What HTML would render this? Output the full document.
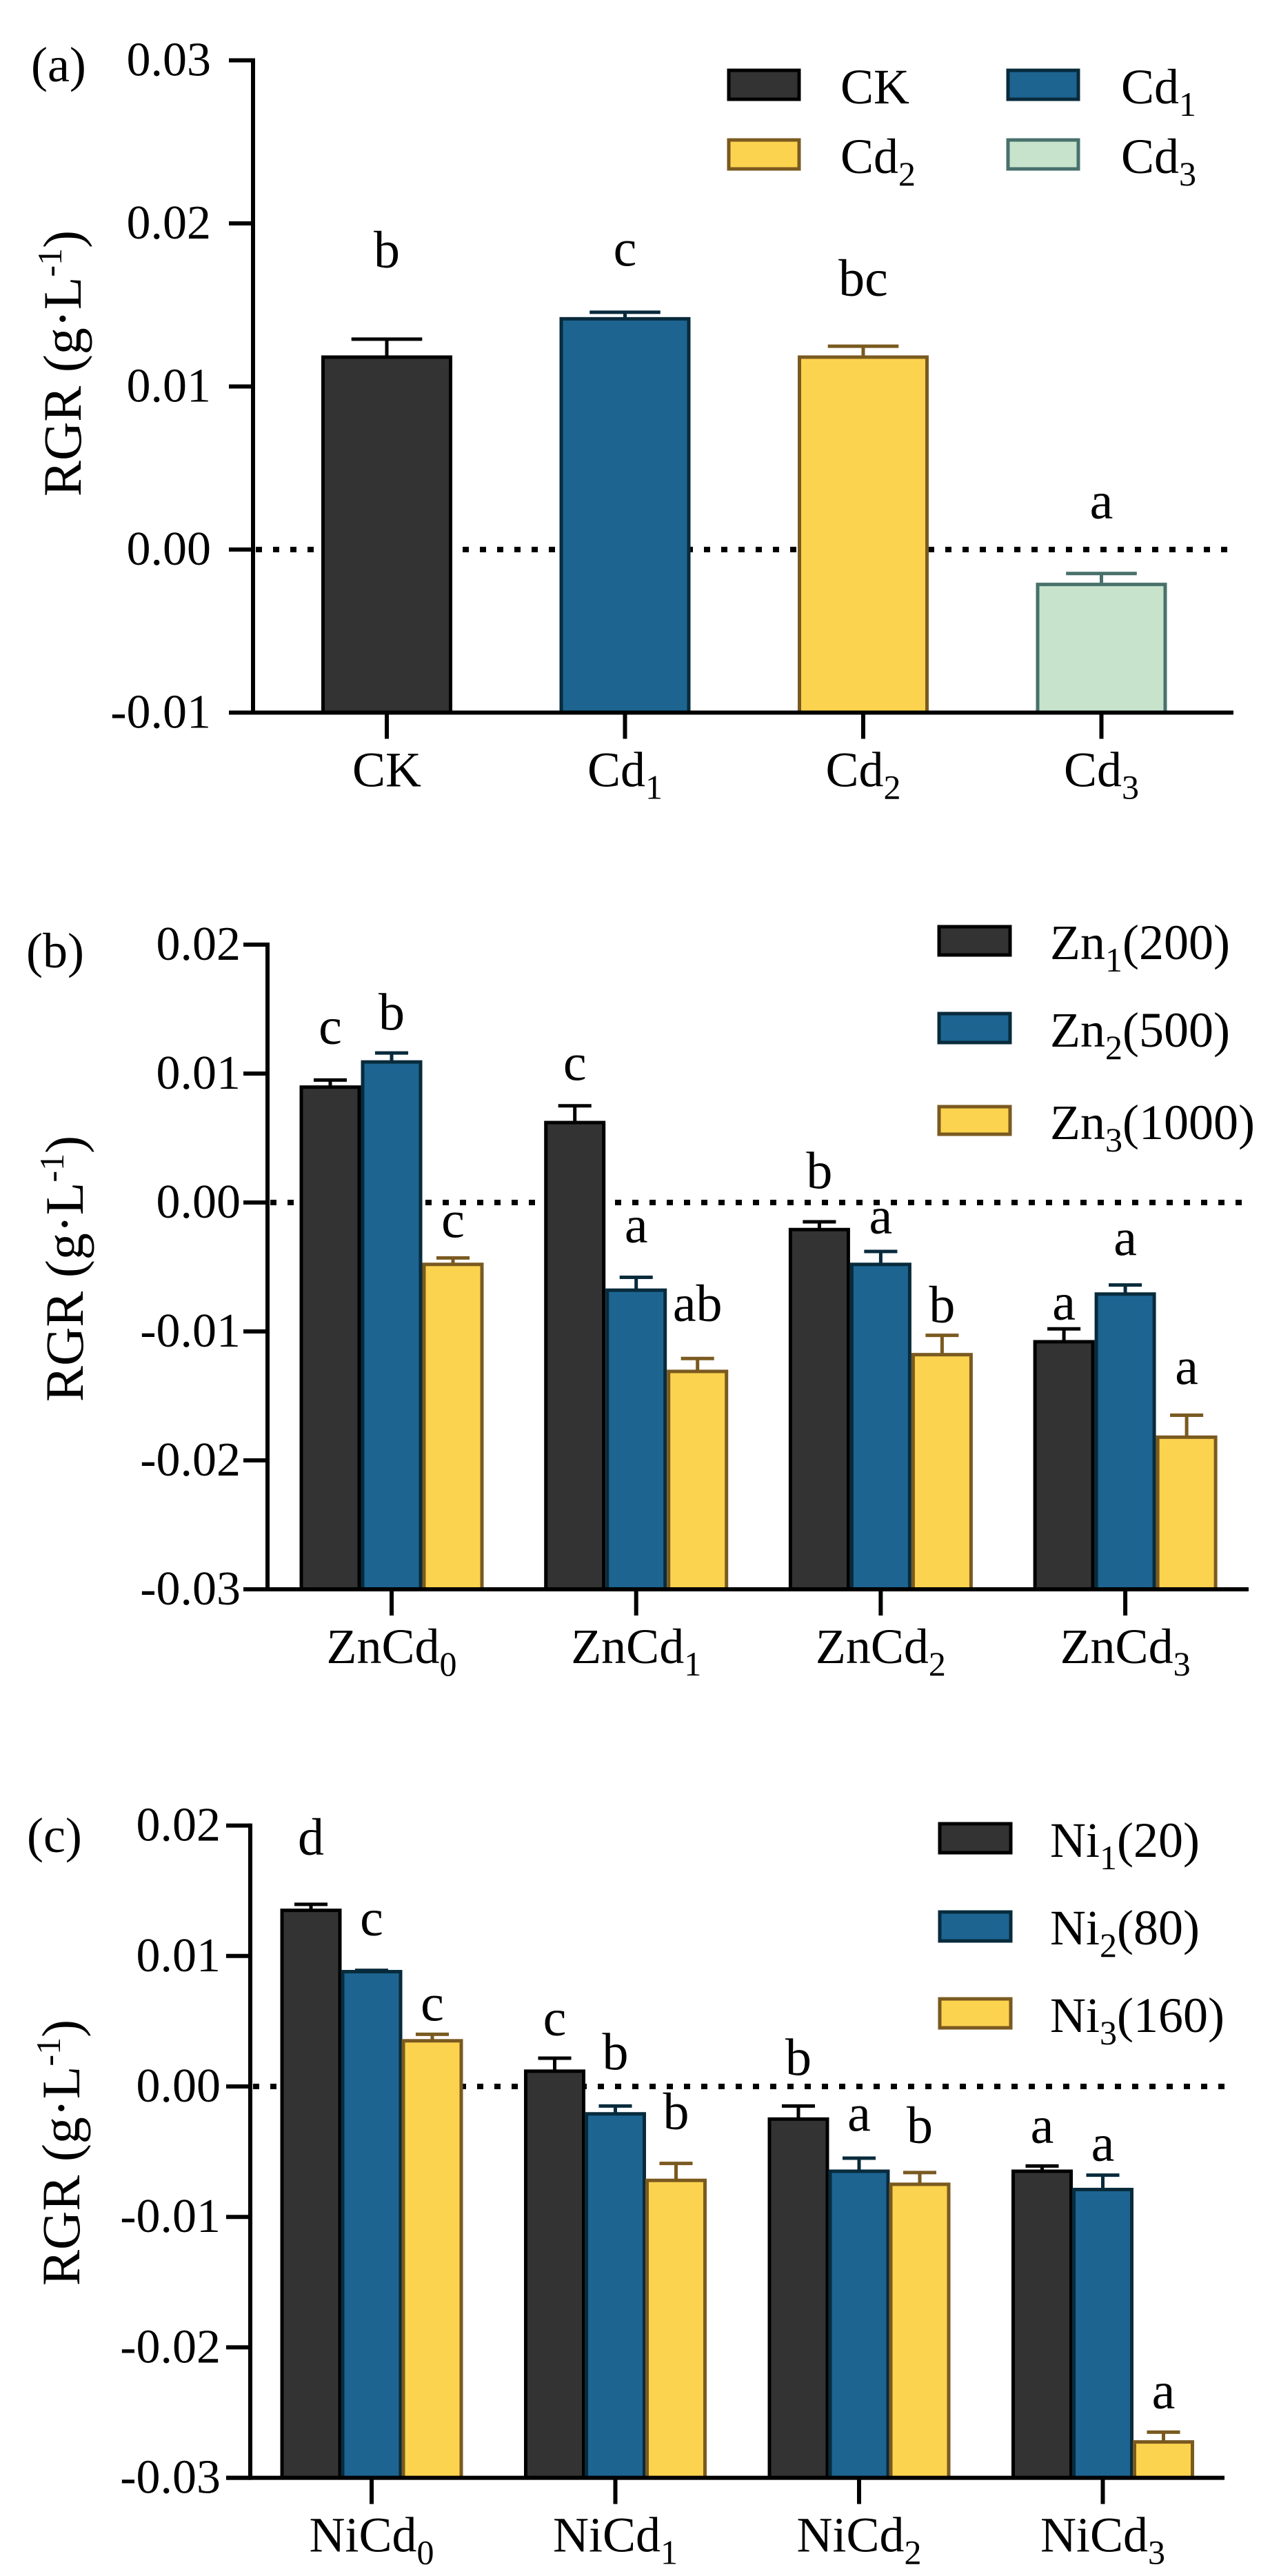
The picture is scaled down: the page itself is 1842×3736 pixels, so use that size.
<!DOCTYPE html>
<html><head><meta charset="utf-8"><title>RGR charts</title>
<style>
html,body{margin:0;padding:0;background:#fff;}
svg{display:block;font-family:"Liberation Serif","Times New Roman",serif;}
</style></head>
<body>
<svg id="chart" width="1842" height="3736" viewBox="0 0 1842 3736" xmlns="http://www.w3.org/2000/svg">
<rect x="0" y="0" width="1842" height="3736" fill="#fff"/>

<text x="45" y="118" font-size="72">(a)</text>
<text x="38" y="1403" font-size="72">(b)</text>
<text x="39" y="2686" font-size="72">(c)</text>

<text transform="translate(117,527) rotate(-90)" text-anchor="middle" font-size="78">RGR (g·L<tspan dy="-28" font-size="50">-1</tspan><tspan dy="28">)</tspan></text>
<text transform="translate(120,1840) rotate(-90)" text-anchor="middle" font-size="78">RGR (g·L<tspan dy="-28" font-size="50">-1</tspan><tspan dy="28">)</tspan></text>
<text transform="translate(115,3122) rotate(-90)" text-anchor="middle" font-size="78">RGR (g·L<tspan dy="-28" font-size="50">-1</tspan><tspan dy="28">)</tspan></text>

<g>
<rect x="1057" y="102" width="102" height="42" fill="#333333" stroke="#000" stroke-width="5"/>
<text x="1219" y="150" font-size="72">CK</text>
<rect x="1462" y="102" width="102" height="42" fill="#1d6491" stroke="#082b3c" stroke-width="5"/>
<text x="1626" y="150" font-size="72">Cd<tspan dy="18" font-size="50">1</tspan></text>
<rect x="1057" y="203" width="102" height="42" fill="#fcd34f" stroke="#7a5a20" stroke-width="5"/>
<text x="1219" y="251" font-size="72">Cd<tspan dy="18" font-size="50">2</tspan></text>
<rect x="1462" y="203" width="102" height="42" fill="#c7e3cc" stroke="#48716c" stroke-width="5"/>
<text x="1626" y="251" font-size="72">Cd<tspan dy="18" font-size="50">3</tspan></text>
</g>

<g>
<rect x="1362" y="1344" width="103" height="41" fill="#333333" stroke="#000" stroke-width="5"/>
<text x="1523" y="1391" font-size="72">Zn<tspan dy="18" font-size="50">1</tspan><tspan dy="-18">(200)</tspan></text>
<rect x="1362" y="1470" width="103" height="42" fill="#1d6491" stroke="#082b3c" stroke-width="5"/>
<text x="1523" y="1518" font-size="72">Zn<tspan dy="18" font-size="50">2</tspan><tspan dy="-18">(500)</tspan></text>
<rect x="1362" y="1605" width="103" height="40" fill="#fcd34f" stroke="#7a5a20" stroke-width="5"/>
<text x="1523" y="1652" font-size="72">Zn<tspan dy="18" font-size="50">3</tspan><tspan dy="-18">(1000)</tspan></text>
</g>

<g>
<rect x="1363" y="2645" width="103" height="42" fill="#333333" stroke="#000" stroke-width="5"/>
<text x="1523" y="2693" font-size="72">Ni<tspan dy="18" font-size="50">1</tspan><tspan dy="-18">(20)</tspan></text>
<rect x="1363" y="2773" width="103" height="42" fill="#1d6491" stroke="#082b3c" stroke-width="5"/>
<text x="1523" y="2820" font-size="72">Ni<tspan dy="18" font-size="50">2</tspan><tspan dy="-18">(80)</tspan></text>
<rect x="1363" y="2899" width="103" height="42" fill="#fcd34f" stroke="#7a5a20" stroke-width="5"/>
<text x="1523" y="2947" font-size="72">Ni<tspan dy="18" font-size="50">3</tspan><tspan dy="-18">(160)</tspan></text>
</g>

<g id="plots"></g>
</svg>

<script>
// ---------- Panel (a) data ----------
const aCategories = [['CK',''],['Cd','1'],['Cd','2'],['Cd','3']];
const aValues = [0.0118, 0.01415, 0.0118, -0.00214];
const aErrors = [0.0011, 0.0004, 0.00067, 0.00067];
const aLetters = ['b','c','bc','a'];
const aLetterY = [0.0173, 0.0174, 0.01555, 0.0019];
const aTicks = [-0.01, 0, 0.01, 0.02, 0.03];
const aTickLabels = ['-0.01','0.00','0.01','0.02','0.03'];

// ---------- Panel (b) data ----------
const bCategories = [['ZnCd','0'],['ZnCd','1'],['ZnCd','2'],['ZnCd','3']];
const bZn1 = [0.00895, 0.0062, -0.0021, -0.0108];
const bZn2 = [0.0109, -0.0068, -0.0048, -0.0071];
const bZn3 = [-0.0048, -0.0131, -0.0118, -0.0182];
const bZn1Err = [0.00055, 0.0013, 0.0006, 0.001];
const bZn2Err = [0.0007, 0.001, 0.001, 0.0007];
const bZn3Err = [0.0005, 0.001, 0.0015, 0.0017];
const bZn1Letters = ['c','c','b','a'];
const bZn2Letters = ['b','a','a','a'];
const bZn3Letters = ['c','ab','b','a'];
const bZn1LetterY = [0.0123, 0.0095, 0.0011, -0.0091];
const bZn2LetterY = [0.0134, -0.0031, -0.0024, -0.0041];
const bZn3LetterY = [-0.0027, -0.0092, -0.0093, -0.0141];
const bTicks = [-0.03, -0.02, -0.01, 0, 0.01, 0.02];
const bTickLabels = ['-0.03','-0.02','-0.01','0.00','0.01','0.02'];

// ---------- Panel (c) data ----------
const cCategories = [['NiCd','0'],['NiCd','1'],['NiCd','2'],['NiCd','3']];
const cNi1 = [0.0135, 0.00117, -0.0025, -0.0065];
const cNi2 = [0.0088, -0.0021, -0.0065, -0.0079];
const cNi3 = [0.0035, -0.0072, -0.0075, -0.02725];
const cNi1Err = [0.00046, 0.001, 0.001, 0.0004];
const cNi2Err = [0.0001, 0.0006, 0.001, 0.0011];
const cNi3Err = [0.0005, 0.0013, 0.0009, 0.00075];
const cNi1Letters = ['d','c','b','a'];
const cNi2Letters = ['c','b','a','a'];
const cNi3Letters = ['c','b','b','a'];
const cNi1LetterY = [0.01775, 0.00392, 0.000875, -0.00433];
const cNi2LetterY = [0.01158, 0.00129, -0.00342, -0.00571];
const cNi3LetterY = [0.00504, -0.00329, -0.00433, -0.02467];
const cTicks = [-0.03, -0.02, -0.01, 0, 0.01, 0.02];
const cTickLabels = ['-0.03','-0.02','-0.01','0.00','0.01','0.02'];

const NS = 'http://www.w3.org/2000/svg';
const root = document.getElementById('plots');
function mk(tag, attrs, parent) {
  const e = document.createElementNS(NS, tag);
  for (const k in attrs) e.setAttribute(k, attrs[k]);
  (parent || root).appendChild(e);
  return e;
}

const STYLES = [
  {fill:'#333333', stroke:'#000000'},
  {fill:'#1d6491', stroke:'#082b3c'},
  {fill:'#fcd34f', stroke:'#7a5a20'},
  {fill:'#c7e3cc', stroke:'#48716c'}
];

function drawPanel(p) {
  const g = mk('g', {});
  
  
  const y = v => p.yRef - v / 0.01 * p.per;
  const yMin = y(p.min), yMax = y(p.max);
  const x = i => p.c0 + p.step * i;

  const z = mk('line', {x1: p.axisX + 4, x2: p.xEnd, y1: y(0), y2: y(0), stroke:'#000', 'stroke-width': 8, 'stroke-dasharray': '9 16'}, g);
  
  

  p.series.forEach(s => {
    s.values.forEach((v, i) => {
      const st = s.styleFor(i);
      const cx = x(i) + s.off;
      const top = y(v);
      const r = mk('rect', {x: cx - p.barW/2 + 2.5, y: top, width: p.barW - 5, height: yMin - top, fill: st.fill, stroke: st.stroke, 'stroke-width': 5}, g);
      
      
      const et = y(v + s.err[i]);
      const ev = mk('line', {x1: cx, x2: cx, y1: top, y2: et, stroke: st.stroke, 'stroke-width': 5}, g);
      
      
      const cap = p.barW * 0.27;
      const ec = mk('line', {x1: cx - cap, x2: cx + cap, y1: et, y2: et, stroke: st.stroke, 'stroke-width': 5}, g);
      
      
      const t = mk('text', {x: cx, y: y(s.letterY[i]), 'text-anchor':'middle', 'font-size': 76}, g);
      t.textContent = s.letters[i];
      
      
    });
  });

  const ya = mk('line', {x1: p.axisX, x2: p.axisX, y1: yMax - 3, y2: yMin + 3, stroke:'#000', 'stroke-width': 6}, g);
  
  
  p.ticks.forEach((t, i) => {
    const ty = y(t);
    const tl = mk('line', {x1: p.axisX - 35, x2: p.axisX, y1: ty, y2: ty, stroke:'#000', 'stroke-width': 6}, g);
    
    
    const lab = mk('text', {x: p.labelRight, y: ty + 22, 'text-anchor':'end', 'font-size': 70}, g);
    lab.textContent = p.tickLabels[i];
    
    
  });
  const xa = mk('line', {x1: p.axisX - 35, x2: p.xEnd, y1: yMin, y2: yMin, stroke:'#000', 'stroke-width': 6}, g);
  
  
  p.categories.forEach((c, i) => {
    const tk = mk('line', {x1: x(i), x2: x(i), y1: yMin, y2: yMin + 38, stroke:'#000', 'stroke-width': 6}, g);
    
    
    const lab = mk('text', {x: x(i), y: yMin + 107, 'text-anchor':'middle', 'font-size': 72}, g);
    
    
    lab.appendChild(document.createTextNode(c[0]));
    if (c[1]) {
      const sub = mk('tspan', {dy: 18, 'font-size': 50}, lab);
      sub.textContent = c[1];
    }
  });
}

drawPanel({
  name:'panel-a-chart', yRef: 797, per: 236.5, min: -0.01, max: 0.03,
  axisX: 367, xEnd: 1789, labelRight: 306, c0: 561, step: 345.5, barW: 190,
  categories: aCategories, ticks: aTicks, tickLabels: aTickLabels,
  series: [{key:'treatment', off: 0, styleFor: i => STYLES[i], values: aValues, err: aErrors, letters: aLetters, letterY: aLetterY}]
});

drawPanel({
  name:'panel-b-chart', yRef: 1744, per: 187, min: -0.03, max: 0.02,
  axisX: 388, xEnd: 1811, labelRight: 349, c0: 568, step: 354.7, barW: 89,
  categories: bCategories, ticks: bTicks, tickLabels: bTickLabels,
  series: [
    {key:'zn1', off:-89, styleFor: () => STYLES[0], values: bZn1, err: bZn1Err, letters: bZn1Letters, letterY: bZn1LetterY},
    {key:'zn2', off:0, styleFor: () => STYLES[1], values: bZn2, err: bZn2Err, letters: bZn2Letters, letterY: bZn2LetterY},
    {key:'zn3', off:89, styleFor: () => STYLES[2], values: bZn3, err: bZn3Err, letters: bZn3Letters, letterY: bZn3LetterY}
  ]
});

drawPanel({
  name:'panel-c-chart', yRef: 3026, per: 189.2, min: -0.03, max: 0.02,
  axisX: 363, xEnd: 1776, labelRight: 320, c0: 539, step: 353.5, barW: 89,
  categories: cCategories, ticks: cTicks, tickLabels: cTickLabels,
  series: [
    {key:'ni1', off:-88, styleFor: () => STYLES[0], values: cNi1, err: cNi1Err, letters: cNi1Letters, letterY: cNi1LetterY},
    {key:'ni2', off:0, styleFor: () => STYLES[1], values: cNi2, err: cNi2Err, letters: cNi2Letters, letterY: cNi2LetterY},
    {key:'ni3', off:88, styleFor: () => STYLES[2], values: cNi3, err: cNi3Err, letters: cNi3Letters, letterY: cNi3LetterY}
  ]
});
</script>
</body></html>
